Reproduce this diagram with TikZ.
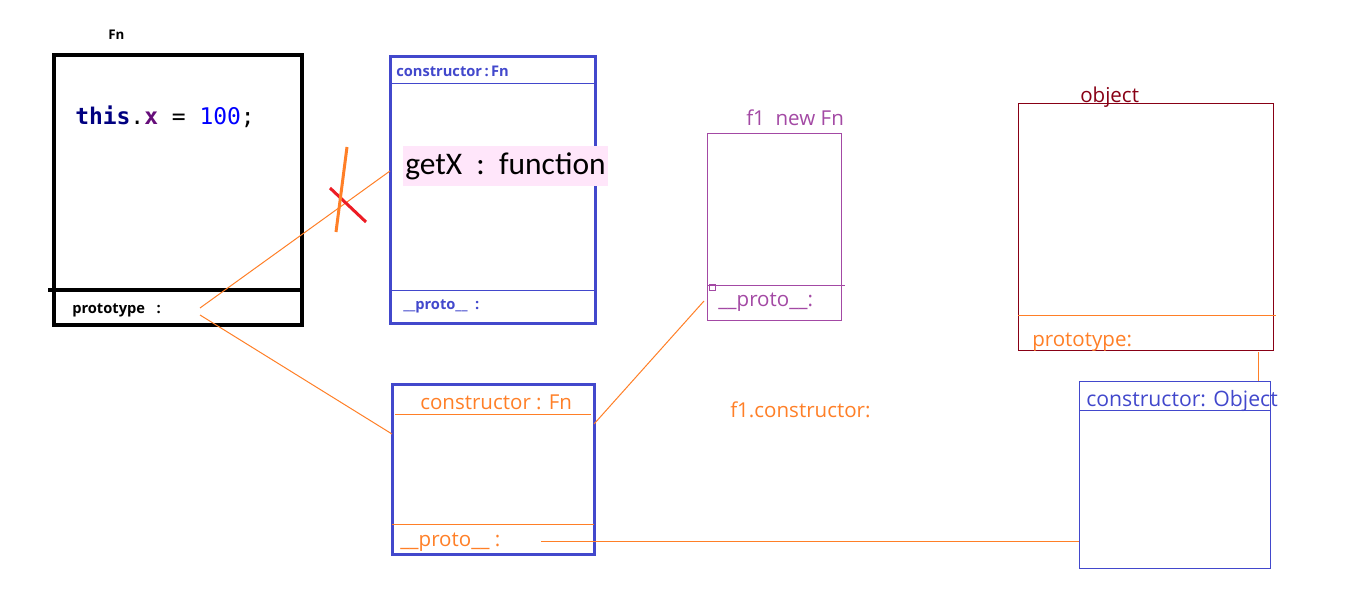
\documentclass[tikz,border=0pt]{standalone}
\usepackage{fontspec}
\setmainfont{Open Sans}
\newfontfamily\codefont{DejaVu Sans Mono}
\newfontfamily\calfont{Carlito}
\usetikzlibrary{fit}
\definecolor{boxblue}{RGB}{66,72,204}
\definecolor{lineorange}{RGB}{255,127,39}
\definecolor{objpurple}{RGB}{163,73,164}
\definecolor{objred}{RGB}{136,0,21}
\definecolor{crossred}{RGB}{237,28,36}
\definecolor{getxpink}{RGB}{255,230,250}
\definecolor{kwnavy}{RGB}{0,0,128}
\definecolor{fieldpurple}{RGB}{102,14,122}
\newcommand\fsz[1]{\fontsize{#1}{#1}\selectfont}

\begin{document}
\begin{tikzpicture}[x=0.75pt, y=-0.75pt,
    box/.style={draw, inner sep=0, outer sep=0},
    link/.style={lineorange, line width=0.75pt},
    txt/.style={inner sep=0, anchor=west}]
  \useasboundingbox (0,0) rectangle (1360,591);
  % constructor Fn
  \node[txt, font=\fsz{10}\bfseries] (fnname) at (108,35) {Fn};
  \node[box, line width=3pt, fit={(54,55) (302,325)}] (fn) {};
  \draw[line width=3pt] (48,290) -- (fn.east |- 0,290);
  \node[txt] (code) at (75,117) {\codefont\fsz{17.2}\textbf{\color{kwnavy}this}.\textbf{\color{fieldpurple}x} = {\color{blue}100};};
  \node[txt, font=\fsz{11}\bfseries] (fnproto) at (72,310) {prototype\ \ \ :};
  % Fn.prototype
  \node[box, boxblue, line width=2.25pt, fit={(390,57) (595,324)}] (protobox) {};
  \draw[boxblue, line width=0.75pt] (protobox.west |- 0,84) -- (protobox.east |- 0,84);
  \draw[boxblue, line width=0.75pt] (protobox.west |- 0,291) -- (protobox.east |- 0,291);
  \node[txt, boxblue, font=\fsz{11}\bfseries] (pctor) at (396,71) {constructor\,:\,Fn};
  \node[txt, boxblue, font=\fsz{11}\bfseries] (pproto) at (403,306) {\_\_proto\_\_\ \ :};
  \node[txt, fill=getxpink, inner xsep=1.5pt, minimum height=40*0.75pt] (getx) at (403,166) {\calfont\fsz{23.6}getX\ \ :\ \ function};
  % prototype with constructor
  \node[box, boxblue, line width=2.25pt, fit={(392,385) (594,554)}] (ctorbox) {};
  \draw[lineorange, line width=0.75pt] (395,415) -- (591,415);
  \draw[lineorange, line width=0.75pt] (ctorbox.west |- 0,524) -- (ctorbox.east |- 0,524);
  \node[txt, lineorange, font=\fsz{15.4}] (cctor) at (420,402) {constructor : Fn};
  \node[txt, lineorange, font=\fsz{15.4}] (cproto) at (400,542) {\_\_proto\_\_\ :};
  % instance f1
  \node[txt, objpurple, font=\fsz{15.4}] (f1name) at (746,118) {f1\ \ new Fn};
  \node[box, objpurple, line width=0.75pt, fit={(707,134) (841,321)}] (f1) {};
  \draw[objpurple, line width=0.75pt] (f1.west |- 0,286) -- (845,286);
  \draw[objpurple, line width=0.75pt] (709,285) rectangle (715,291);
  \node[txt, objpurple, font=\fsz{15.4}] (f1proto) at (718,302) {\_\_proto\_\_:};
  \node[txt, lineorange, font=\fsz{15.4}] (f1ctor) at (730,410) {f1.constructor:};
  % Object
  \node[txt, objred, font=\fsz{15.4}] (objname) at (1080,97) {object};
  \node[box, objred, line width=0.75pt, fit={(1018,104) (1273,351)}] (obj) {};
  \draw[lineorange, line width=0.75pt] (obj.west |- 0,316) -- (1276,316);
  \node[txt, lineorange, font=\fsz{15.4}] (objproto) at (1032,342) {prototype:};
  \node[box, boxblue, line width=0.75pt, fit={(1079,382) (1270,568)}] (objctor) {};
  \draw[boxblue, line width=0.75pt] (objctor.west |- 0,411) -- (objctor.east |- 0,411);
  \node[txt, boxblue, font=\fsz{15.9}] (octor) at (1086,401) {constructor: Object};
  % links
  \coordinate (pfrom1) at (200,308);
  \coordinate (pfrom2) at (200,315);
  \coordinate (cfrom) at (541,541);
  \draw[link] (pfrom1) -- (protobox.west |- 0,171);
  \draw[link] (pfrom2) -- (ctorbox.west |- 0,434);
  \draw[link] (ctorbox.east |- 0,424) -- (704,301);
  \draw[link] (cfrom) -- (objctor.west |- cfrom);
  \draw[link] (1258,352) -- (1258,381);
  % crossed out
  \draw[crossred, line width=2.25pt] (330,188) -- (366,222);
  \draw[lineorange, line width=2.25pt] (347,147) -- (336,232);
\end{tikzpicture}
\end{document}
